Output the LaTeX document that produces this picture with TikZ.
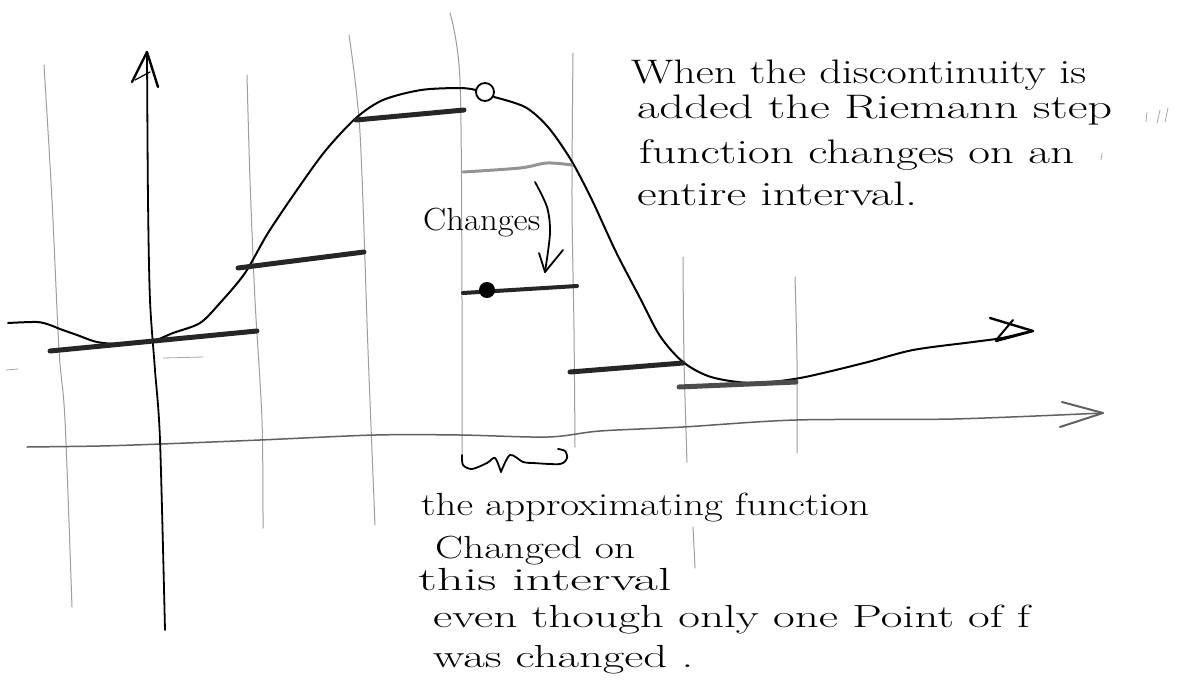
\documentclass[tikz,border=0pt]{standalone}
\usepackage{fontspec}
\usepackage{graphicx}
\newcommand{\fitw}[2]{\resizebox{#1pt}{\height}{#2}}
\tikzset{
  gridln/.style={line width=1pt, black!38, line cap=round},
  fcurve/.style={line width=2pt, black, line cap=round, line join=round},
  stepline/.style={line width=5pt, black!85, line cap=round},
  oldstep/.style={line width=3pt, black!42, line cap=round},
  yaxisln/.style={line width=1.8pt, black, line cap=round, line join=round},
  xaxisln/.style={line width=1.5pt, black!62, line cap=round, line join=round},
  penln/.style={line width=1.8pt, black, line cap=round, line join=round},
  speck/.style={line width=0.8pt, black!35, line cap=round},
  hand/.style={anchor=base west, inner sep=0pt, font=\fontsize{34}{38}\selectfont},
  handlow/.style={anchor=base west, inner sep=0pt, font=\fontsize{32}{36}\selectfont},
  handsmall/.style={anchor=base west, inner sep=0pt, font=\fontsize{32}{36}\selectfont},
}
\begin{document}
\begin{tikzpicture}[x=1pt,y=-1pt]
\useasboundingbox (0,0) rectangle (1178,683);
\fill[white] (0,0) rectangle (1178,683);

% grid lines
\draw[gridln] plot[smooth] coordinates {(44,65) (52,200) (59,350) (65,420) (72,607)};
\draw[gridln] plot[smooth] coordinates {(247,75) (250,180) (255,300) (262,420) (263,528)};
\draw[gridln] plot[smooth] coordinates {(349,35) (360,133) (368,350) (375,525)};
\draw[gridln] plot[smooth] coordinates {(450,13) (460,80) (462,300) (462,455)};
\draw[gridln] plot[smooth] coordinates {(573,53) (572,200) (574,330) (575,447)};
\draw[gridln] plot[smooth] coordinates {(683,257) (684,360) (687,462)};
\draw[gridln] plot[smooth] coordinates {(795,277) (797,360) (797,453)};
\draw[gridln] (693,527) -- (695,568);

% specks
\draw[speck] (1147,112) -- (1146,122);
\draw[speck] (1160,110) -- (1157,123);
\draw[speck] (1168,108) -- (1165,122);
\draw[speck] (1102,153) -- (1101,160);
\draw[speck] (163,358) -- (203,357);
\draw[speck] (6,370) -- (18,369);

% x-axis
\coordinate (xs) at (27,447);
\coordinate (xt) at (1103,413);
\draw[xaxisln] plot[smooth] coordinates {(27,447) (100,446) (161,444) (260,440) (375,435) (460,435) (548,437) (600,431) (683,427) (796,420) (953,419) (1103,413)};
\draw[xaxisln, line width=2pt] (1062,402) -- (xt) -- (1060,427);

% y-axis
\coordinate (yb) at (165,630);
\coordinate (yt) at (147,52);
\draw[yaxisln] plot[smooth] coordinates {(147,52) (148,200) (150,300) (155,370) (160,440) (165,630)};
\draw[yaxisln, line width=2.4pt] (132,82) -- (yt) -- (158,87);
\draw[yaxisln, line width=1.2pt] (135,80) -- (150,72);

% function f
\draw[fcurve] plot[smooth] coordinates {(8,323) (37,322) (50,325) (60,329) (77,335) (97,342) (120,344) (150,342) (173,333) (200,323) (220,303) (245,273) (268,233) (299,187) (326,150) (356,118) (383,100) (421,90) (460,88) (476,90)};
\draw[fcurve] plot[smooth] coordinates {(494,97) (525,107) (548,127) (571,160) (592,200) (616,252) (640,298) (660,336) (683,362) (711,377) (752,383) (800,378) (864,363) (913,350) (973,342) (1002,338) (1031,331)};
\coordinate (ft) at (1033,331);
\draw[penln, line width=2.4pt] (990,318) -- (ft) -- (996,341);
\draw[penln, line width=2pt] (1013,320) -- (997,339);
\draw[penln] (485,92) circle[radius=9pt];

% step function
\draw[stepline] (50,351) -- (257,331);
\draw[stepline] (238,268) -- (364,252);
\draw[stepline] (356,120) -- (464,110);
\draw[oldstep] plot[smooth] coordinates {(463,172) (520,168) (547,163) (572,165)};
\draw[stepline, line width=4pt] (463,293) -- (577,286);
\fill[black] (487,290) circle[radius=8pt];
\draw[stepline] (570,372) -- (683,363);
\draw[stepline, black!70] (679,387) -- (796,382);

% "Changes" arrow
\node[handsmall] (chg) at (423,230) {\fitw{117}{Changes}};
\coordinate (ca) at (535,182);
\coordinate (cb) at (545,272);
\draw[penln] plot[smooth] coordinates {(535,182) (547,207) (550,233) (545,272)};
\draw[penln] (563,250) -- (cb) -- (539,253);

% brace
\draw[penln] plot[smooth] coordinates {(462,455) (463,465) (472,469) (487,463) (495,458) (501,472)};
\draw[penln] plot[smooth] coordinates {(501,472) (510,455) (523,462) (533,463) (560,464) (567,458) (565,451) (558,449)};

% right text
\node[hand] (t1) at (631,83) {\fitw{455}{When the discontinuity is}};
\node[hand] (t2) at (637,118) {\fitw{475}{added the Riemann step}};
\node[hand] (t3) at (639,163) {\fitw{435}{function changes on an}};
\node[hand] (t4) at (637,205) {\fitw{280}{entire interval.}};

% bottom text
\node[handlow] (b1) at (421,515) {\fitw{448}{the approximating function}};
\node[handlow] (b2) at (435,558) {\fitw{200}{Changed on}};
\node[handlow] (b3) at (418,590) {\fitw{253}{this interval}};
\node[handlow] (b4) at (433,627) {\fitw{597}{even though only one Point of f}};
\node[handlow] (b5) at (433,667) {\fitw{260}{was changed .}};
\end{tikzpicture}
\end{document}
